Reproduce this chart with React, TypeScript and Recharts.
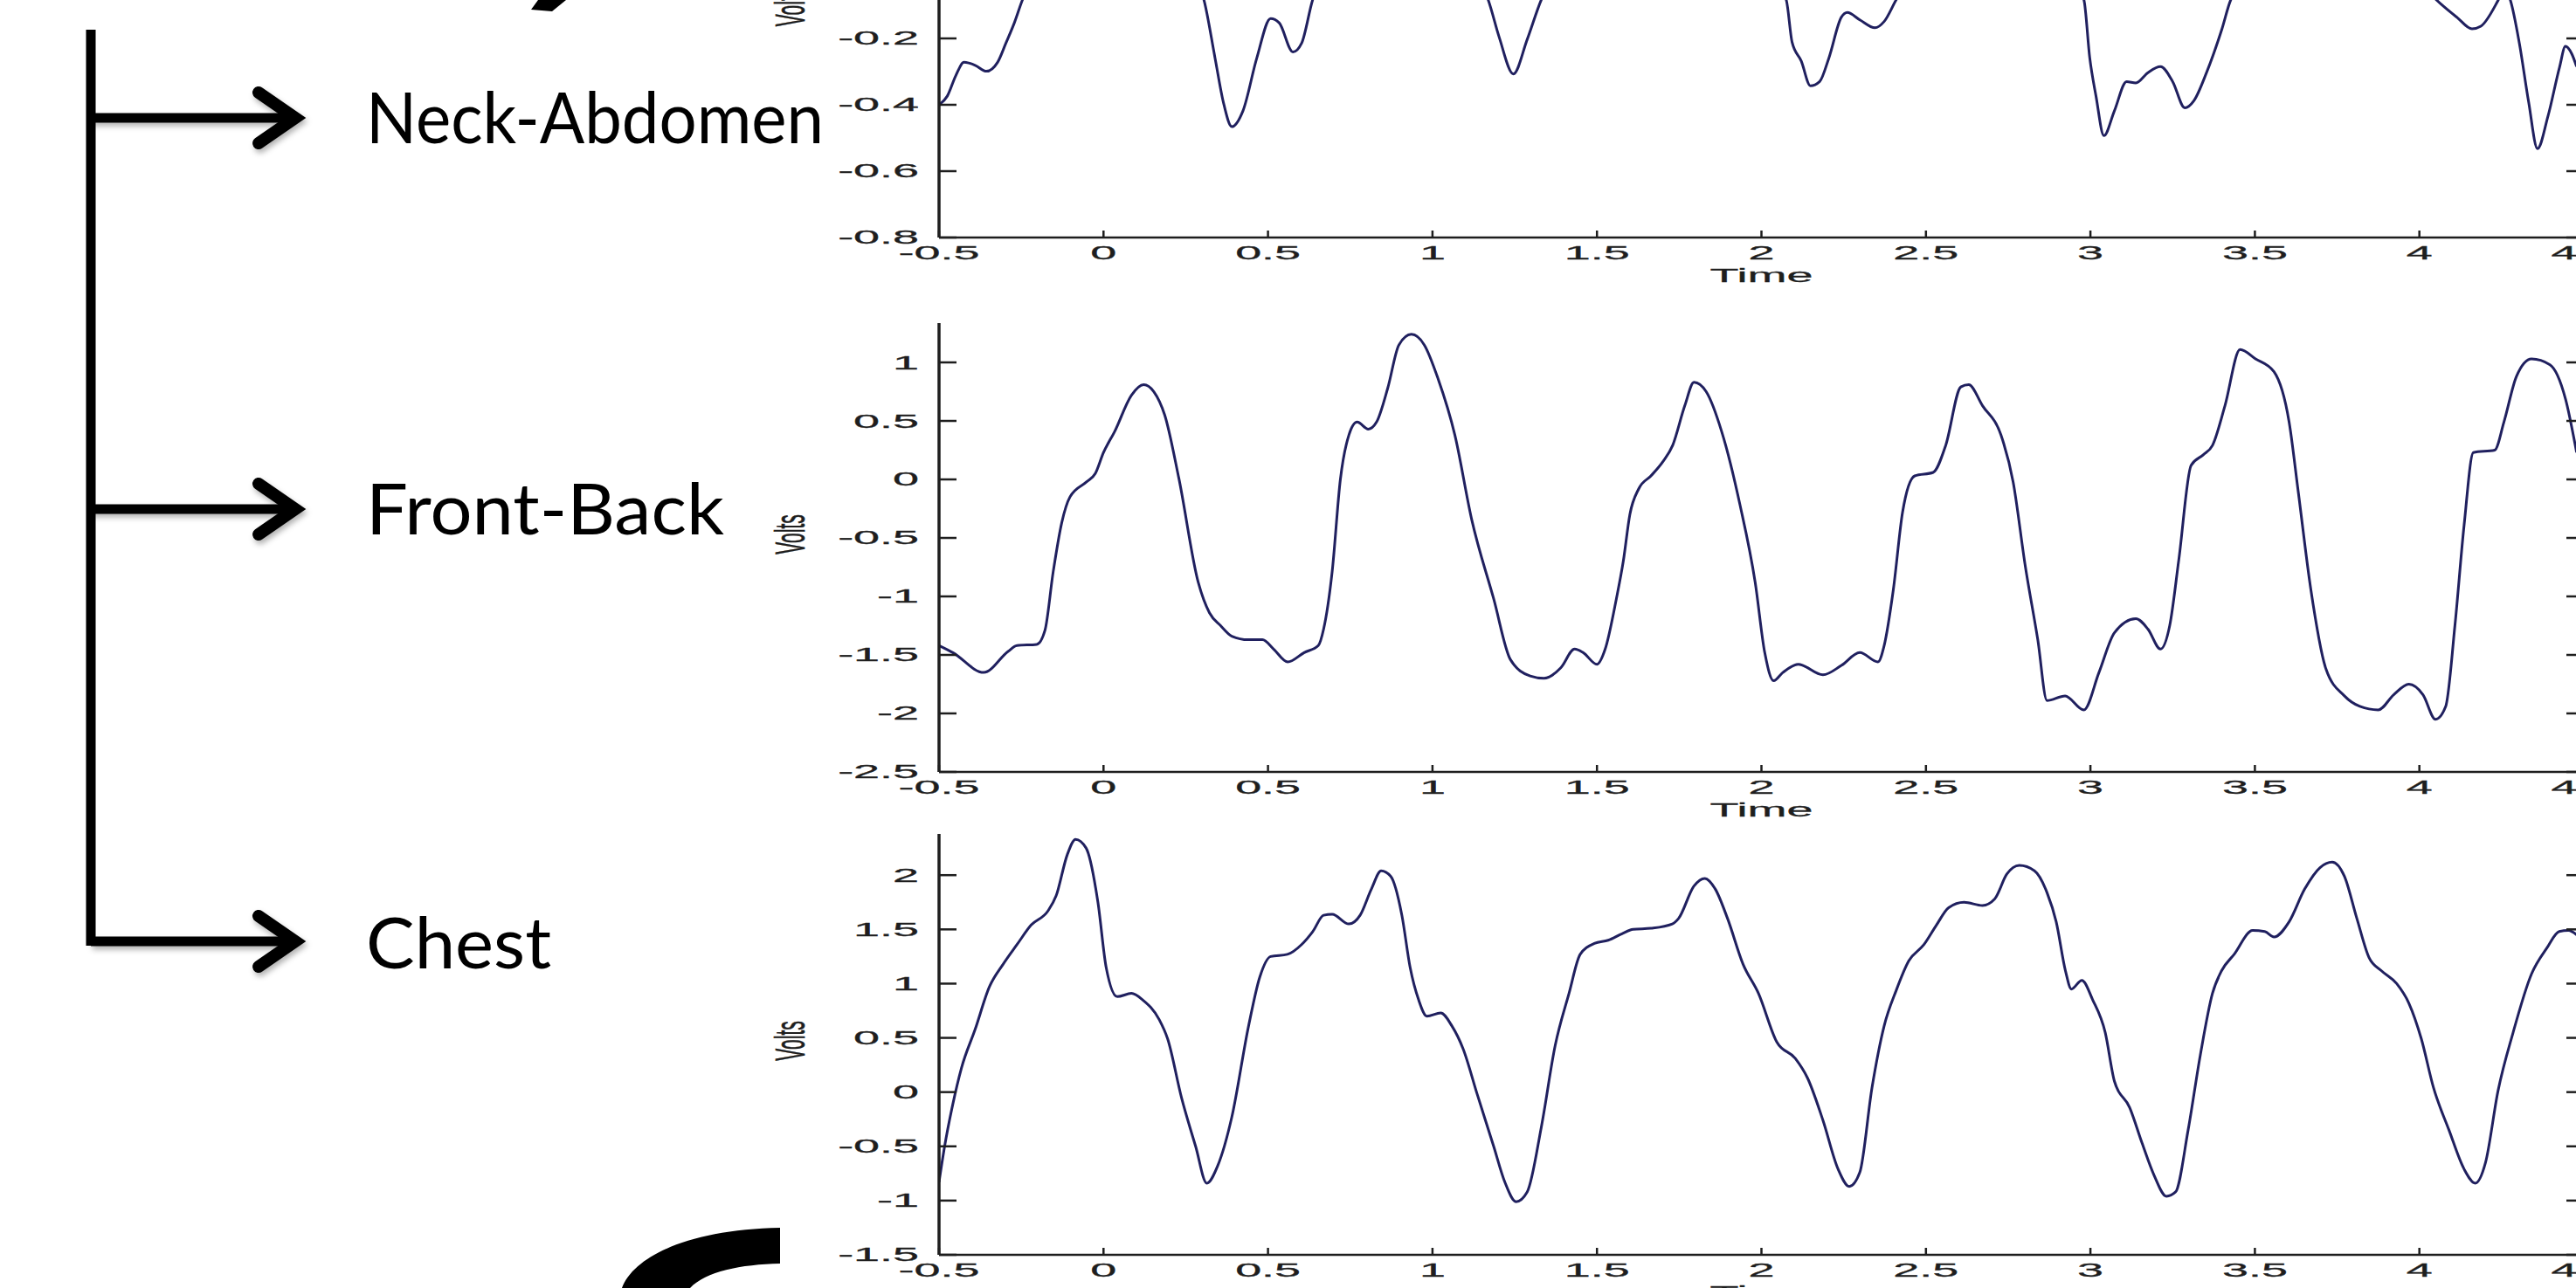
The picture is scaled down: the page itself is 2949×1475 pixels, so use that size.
import { LineChart, Line, XAxis, YAxis } from 'recharts'

// shared time axis
const timeTicks = [-0.5, 0, 0.5, 1, 1.5, 2, 2.5, 3, 3.5, 4, 4.5]

// Neck-Abdomen (top panel, upper part is cut off by the slide)
const neckTime = [
  -0.5, -0.475, -0.449, -0.424, -0.39, -0.356, -0.322, -0.297, -0.271, -0.246,
  -0.18, -0.08, 0.05, 0.18, 0.26, 0.305, 0.339, 0.364, 0.39, 0.424,
  0.466, 0.508, 0.534, 0.576, 0.602, 0.636, 0.7, 0.85, 1.0, 1.12,
  1.169, 1.203, 1.246, 1.288, 1.331, 1.42, 1.6, 1.8, 1.98, 2.075,
  2.093, 2.121, 2.149, 2.177, 2.205, 2.243, 2.261, 2.299, 2.345, 2.373,
  2.41, 2.5, 2.7, 2.9, 2.98, 2.998, 3.017, 3.041, 3.073, 3.11,
  3.138, 3.175, 3.213, 3.25, 3.287, 3.315, 3.353, 3.4, 3.427, 3.55,
  3.75, 3.95, 4.052, 4.115, 4.16, 4.187, 4.24, 4.258, 4.276, 4.304,
  4.332, 4.359, 4.391, 4.426, 4.444, 4.463, 4.478,
]
const neckVolts = [
  -0.4, -0.374, -0.312, -0.272, -0.281, -0.299, -0.272, -0.215, -0.153, -0.083,
  0.02, 0.08, 0.12, 0.08, 0.0, -0.083, -0.259, -0.391, -0.466, -0.418,
  -0.259, -0.14, -0.153, -0.241, -0.215, -0.083, 0.02, 0.1, 0.06, 0.0,
  -0.083, -0.197, -0.307, -0.203, -0.083, 0.03, 0.1, 0.1, 0.03, -0.083,
  -0.211, -0.268, -0.343, -0.33, -0.259, -0.136, -0.122, -0.144, -0.168, -0.149,
  -0.083, 0.04, 0.1, 0.03, -0.083, -0.259, -0.374, -0.493, -0.418, -0.33,
  -0.334, -0.303, -0.285, -0.33, -0.409, -0.387, -0.303, -0.171, -0.083, 0.05,
  0.1, 0.03, -0.084, -0.137, -0.171, -0.163, -0.084, -0.05, -0.083, -0.215,
  -0.391, -0.532, -0.434, -0.287, -0.224, -0.246, -0.285,
]
const neckTicks = [-0.8, -0.6, -0.4, -0.2, 0, 0.2, 0.4]

// Front-Back (middle panel)
const frontTime = [
  -0.5, -0.458, -0.364, -0.29, -0.263, -0.203, -0.178, -0.153, -0.127, -0.102,
  -0.051, -0.025, 0.0, 0.034, 0.085, 0.122, 0.153, 0.186, 0.229, 0.288,
  0.322, 0.356, 0.39, 0.44, 0.483, 0.517, 0.56, 0.61, 0.653, 0.669,
  0.695, 0.72, 0.746, 0.771, 0.805, 0.83, 0.864, 0.898, 0.936, 0.975,
  1.017, 1.068, 1.119, 1.186, 1.237, 1.297, 1.339, 1.39, 1.432, 1.458,
  1.5, 1.525, 1.559, 1.58, 1.6, 1.627, 1.664, 1.7, 1.73, 1.767,
  1.795, 1.832, 1.879, 1.935, 1.981, 2.01, 2.037, 2.065, 2.112, 2.187,
  2.243, 2.299, 2.354, 2.373, 2.401, 2.429, 2.466, 2.522, 2.56, 2.606,
  2.63, 2.672, 2.728, 2.765, 2.802, 2.84, 2.868, 2.923, 2.98, 3.026,
  3.073, 3.138, 3.175, 3.213, 3.241, 3.269, 3.306, 3.343, 3.371, 3.409,
  3.455, 3.502, 3.558, 3.604, 3.632, 3.67, 3.716, 3.772, 3.819, 3.875,
  3.922, 3.968, 4.011, 4.049, 4.08, 4.108, 4.136, 4.164, 4.229, 4.257,
  4.295, 4.341, 4.397, 4.444, 4.478,
]
const frontVolts = [
  -1.42, -1.48, -1.65, -1.47, -1.42, -1.41, -1.29, -0.79, -0.37, -0.15,
  -0.02, 0.05, 0.23, 0.41, 0.72, 0.81, 0.75, 0.55, 0.01, -0.88,
  -1.14, -1.25, -1.34, -1.37, -1.37, -1.45, -1.56, -1.48, -1.42, -1.28,
  -0.79, 0.0, 0.38, 0.49, 0.43, 0.49, 0.78, 1.15, 1.24, 1.15,
  0.86, 0.38, -0.34, -1.02, -1.54, -1.68, -1.7, -1.61, -1.45, -1.48,
  -1.58, -1.45, -1.02, -0.7, -0.3, -0.08, 0.03, 0.15, 0.29, 0.63,
  0.83, 0.75, 0.41, -0.22, -0.88, -1.48, -1.72, -1.65, -1.58, -1.67,
  -1.59, -1.48, -1.56, -1.42, -0.94, -0.28, 0.03, 0.06, 0.29, 0.79,
  0.81, 0.63, 0.38, -0.02, -0.74, -1.37, -1.89, -1.85, -1.97, -1.65,
  -1.31, -1.19, -1.28, -1.45, -1.25, -0.68, 0.12, 0.21, 0.29, 0.63,
  1.11, 1.03, 0.92, 0.49, -0.11, -0.94, -1.62, -1.85, -1.94, -1.97,
  -1.84, -1.75, -1.84, -2.05, -1.94, -1.25, -0.39, 0.23, 0.25, 0.49,
  0.88, 1.03, 0.98, 0.69, 0.23,
]
const frontTicks = [-2.5, -2, -1.5, -1, -0.5, 0, 0.5, 1]

// Chest (bottom panel)
const chestTime = [
  -0.5, -0.483, -0.458, -0.432, -0.39, -0.347, -0.305, -0.263, -0.22, -0.169,
  -0.144, -0.11, -0.085, -0.053, -0.017, 0.008, 0.042, 0.085, 0.119, 0.169,
  0.195, 0.237, 0.28, 0.314, 0.347, 0.39, 0.441, 0.475, 0.508, 0.559,
  0.602, 0.636, 0.669, 0.695, 0.746, 0.78, 0.814, 0.844, 0.873, 0.907,
  0.932, 0.958, 0.983, 1.025, 1.059, 1.093, 1.136, 1.186, 1.22, 1.254,
  1.288, 1.331, 1.373, 1.415, 1.449, 1.492, 1.534, 1.576, 1.61, 1.664,
  1.729, 1.748, 1.795, 1.828, 1.86, 1.897, 1.944, 1.991, 2.047, 2.103,
  2.14, 2.187, 2.233, 2.267, 2.299, 2.336, 2.373, 2.41, 2.448, 2.494,
  2.532, 2.569, 2.616, 2.672, 2.709, 2.746, 2.784, 2.83, 2.868, 2.896,
  2.924, 2.942, 2.974, 3.007, 3.045, 3.073, 3.119, 3.157, 3.194, 3.231,
  3.259, 3.297, 3.334, 3.371, 3.399, 3.437, 3.493, 3.53, 3.558, 3.604,
  3.651, 3.698, 3.735, 3.772, 3.81, 3.847, 3.884, 3.931, 3.968, 4.006,
  4.043, 4.09, 4.136, 4.17, 4.201, 4.239, 4.285, 4.341, 4.388, 4.425,
  4.453, 4.478,
]
const chestVolts = [
  -0.83, -0.5, -0.11, 0.22, 0.58, 0.97, 1.18, 1.36, 1.54, 1.67,
  1.81, 2.19, 2.33, 2.25, 1.75, 1.15, 0.88, 0.91, 0.85, 0.67,
  0.49, -0.05, -0.5, -0.84, -0.68, -0.23, 0.61, 1.06, 1.25, 1.27,
  1.36, 1.48, 1.63, 1.64, 1.55, 1.63, 1.87, 2.04, 1.99, 1.63,
  1.15, 0.85, 0.7, 0.73, 0.61, 0.4, -0.02, -0.5, -0.83, -1.01,
  -0.92, -0.32, 0.43, 0.91, 1.27, 1.37, 1.4, 1.46, 1.5, 1.51,
  1.55, 1.6, 1.9, 1.97, 1.87, 1.6, 1.18, 0.91, 0.46, 0.31,
  0.13, -0.26, -0.71, -0.87, -0.74, 0.04, 0.61, 0.94, 1.21, 1.36,
  1.54, 1.7, 1.75, 1.72, 1.78, 2.01, 2.09, 2.04, 1.84, 1.57,
  1.12, 0.95, 1.03, 0.85, 0.55, 0.1, -0.14, -0.47, -0.77, -0.96,
  -0.92, -0.35, 0.34, 0.91, 1.12, 1.27, 1.49, 1.48, 1.43, 1.57,
  1.87, 2.07, 2.12, 1.99, 1.6, 1.24, 1.12, 1.0, 0.82, 0.49,
  0.04, -0.35, -0.71, -0.84, -0.65, 0.01, 0.55, 1.09, 1.33, 1.48,
  1.49, 1.45,
]
const chestTicks = [-1.5, -1, -0.5, 0, 0.5, 1, 1.5, 2]

const PLOT_LEFT = 1075
const PLOT_RIGHT = 2958
const RIGHT_W = 40
const CHART_W = PLOT_RIGHT + RIGHT_W
const X_AXIS_H = 70
const LINE = '#20205f'
const INK = '#1e1e1e'
const STRETCH = 2.45
const TICK_FONT = 22
const MATLAB_FONT = '"Liberation Sans", Arial, sans-serif'

const fmt = (v: number) => String(Math.round(v * 10) / 10)

const zip = (t: number[], v: number[]) => t.map((x, i) => ({ t: x, v: v[i] }))

// matlab style inward tick + stretched label
function LeftTick({ x, y, payload }: any) {
  const ax = x + 23
  return (
    <g>
      <line x1={ax} y1={y} x2={ax + 20} y2={y} stroke={INK} strokeWidth={2.5} />
      <text
        transform={`translate(${x},${y}) scale(${STRETCH},1)`}
        textAnchor="end"
        dominantBaseline="central"
        fontSize={TICK_FONT}
        fontFamily={MATLAB_FONT}
        fill={INK}
        stroke={INK}
        strokeWidth={0.3}
      >
        {fmt(payload.value)}
      </text>
    </g>
  )
}

function RightTick({ x, y }: any) {
  return <line x1={x - 20} y1={y} x2={x} y2={y} stroke={INK} strokeWidth={2.5} />
}

function BottomTick({ x, y, payload }: any) {
  const ay = y - 18
  return (
    <g>
      <line x1={x} y1={ay} x2={x} y2={ay - 8} stroke={INK} strokeWidth={2.5} />
      <text
        transform={`translate(${x},${y}) scale(${STRETCH},1)`}
        textAnchor="middle"
        dominantBaseline="central"
        fontSize={TICK_FONT}
        fontFamily={MATLAB_FONT}
        fill={INK}
        stroke={INK}
        strokeWidth={0.3}
      >
        {fmt(payload.value)}
      </text>
    </g>
  )
}

function TimeTitle({ viewBox }: any) {
  const cx = viewBox.x + viewBox.width / 2
  const cy = viewBox.y + 44
  return (
    <text
      transform={`translate(${cx},${cy}) scale(${STRETCH},1)`}
      textAnchor="middle"
      dominantBaseline="central"
      fontSize={TICK_FONT}
      fontFamily={MATLAB_FONT}
      fill={INK}
      stroke={INK}
      strokeWidth={0.3}
    >
      Time
    </text>
  )
}

function VoltsTitle({ viewBox, shift }: any) {
  const cy = viewBox.y + viewBox.height / 2 + shift
  return (
    <text
      transform={`translate(904,${cy}) scale(2.3,1) rotate(-90)`}
      textAnchor="middle"
      dominantBaseline="central"
      fontSize={21}
      fontFamily={MATLAB_FONT}
      fill={INK}
      stroke={INK}
      strokeWidth={0.3}
    >
      Volts
    </text>
  )
}

interface PanelProps {
  data: { t: number; v: number }[]
  ticks: number[]
  domain: [number, number]
  top: number
  plotHeight: number
  titleShift: number
}

function Panel({ data, ticks, domain, top, plotHeight, titleShift }: PanelProps) {
  return (
    <div style={{ position: 'absolute', left: 0, top }}>
      <LineChart
        width={CHART_W}
        height={plotHeight + X_AXIS_H}
        data={data}
        margin={{ top: 0, right: 0, bottom: 0, left: 0 }}
      >
        <XAxis
          dataKey="t"
          type="number"
          domain={[-0.5, 4.5]}
          ticks={timeTicks}
          interval={0}
          allowDataOverflow
          height={X_AXIS_H}
          tickSize={0}
          tickMargin={18}
          tickLine={false}
          axisLine={{ stroke: INK, strokeWidth: 2.5 }}
          tick={<BottomTick />}
          label={<TimeTitle />}
        />
        <YAxis
          yAxisId="l"
          type="number"
          domain={domain}
          ticks={ticks}
          interval={0}
          allowDataOverflow
          width={PLOT_LEFT}
          tickSize={0}
          tickMargin={23}
          tickLine={false}
          axisLine={{ stroke: INK, strokeWidth: 3.5 }}
          tick={<LeftTick />}
          label={<VoltsTitle shift={titleShift} />}
        />
        <YAxis
          yAxisId="r"
          orientation="right"
          type="number"
          domain={domain}
          ticks={ticks}
          interval={0}
          allowDataOverflow
          width={RIGHT_W}
          tickSize={0}
          tickMargin={0}
          tickLine={false}
          axisLine={false}
          tick={<RightTick />}
        />
        <Line
          yAxisId="l"
          dataKey="v"
          type="monotone"
          stroke={LINE}
          strokeWidth={3}
          dot={false}
          activeDot={false}
          isAnimationActive={false}
        />
      </LineChart>
    </div>
  )
}

const STEM_X = 104

function Arrow({ y }: { y: number }) {
  return (
    <g filter="url(#arrowShadow)">
      <line x1={STEM_X} y1={y} x2={334} y2={y} stroke="#000" strokeWidth={11} />
      <polyline
        points={`296,${y - 29} 338,${y} 296,${y + 29}`}
        fill="none"
        stroke="#000"
        strokeWidth={14}
        strokeLinejoin="miter"
        strokeLinecap="round"
      />
    </g>
  )
}

function SlideLabel({ y, text, width }: { y: number; text: string; width: number }) {
  return (
    <text
      x={419}
      y={y + 29}
      fontSize={82}
      fontFamily="Lato, 'Open Sans', sans-serif"
      textLength={width}
      lengthAdjust="spacingAndGlyphs"
      fill="#000"
    >
      {text}
    </text>
  )
}

export default function App() {
  return (
    <div
      style={{
        position: 'fixed',
        left: 0,
        top: 0,
        width: 2949,
        height: 1475,
        overflow: 'hidden',
        background: '#fff',
      }}
    >
      <svg width={2949} height={1475} style={{ position: 'absolute', left: 0, top: 0 }}>
        <defs>
          <filter id="arrowShadow" x="-10%" y="-50%" width="130%" height="200%">
            <feDropShadow dx="2" dy="4" stdDeviation="3" floodColor="#000" floodOpacity="0.3" />
          </filter>
        </defs>
        <line x1={STEM_X} y1={34} x2={STEM_X} y2={1083} stroke="#000" strokeWidth={11} />
        <Arrow y={135} />
        <Arrow y={583} />
        <Arrow y={1078} />
        <SlideLabel y={135} text="Neck-Abdomen" width={524} />
        <SlideLabel y={583} text="Front-Back" width={410} />
        <SlideLabel y={1080} text="Chest" width={212} />
        <path d="M 616 0 L 648 0 L 632 13 L 608 11 Z" fill="#000" />
        <path d="M 893 1406 C 790 1408 726 1438 712 1475 L 790 1475 C 808 1456 848 1448 893 1447 Z" fill="#000" />
      </svg>
      <Panel data={zip(neckTime, neckVolts)} ticks={neckTicks} domain={[-0.8, 0.55]} top={-241} plotHeight={513} titleShift={-8} />
      <Panel data={zip(frontTime, frontVolts)} ticks={frontTicks} domain={[-2.5, 1.336]} top={370} plotHeight={514} titleShift={-15} />
      <Panel data={zip(chestTime, chestVolts)} ticks={chestTicks} domain={[-1.5, 2.38]} top={955} plotHeight={482} titleShift={-4} />
    </div>
  )
}
